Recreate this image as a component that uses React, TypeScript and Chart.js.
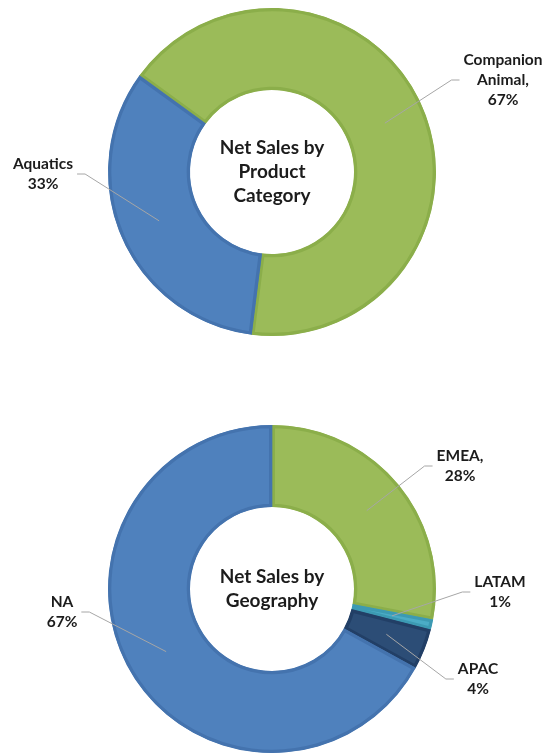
import React, { useEffect, useRef } from 'react';
import { Chart, registerables } from 'chart.js';

Chart.register(...registerables);

// ---- Data ----
const productCategories = ['Companion Animal', 'Aquatics'];
const productShares = [67, 33];
const productLabelText = ['Companion\nAnimal,', 'Aquatics'];
const productTitle = ['Net Sales by', 'Product', 'Category'];

const geoRegions = ['EMEA', 'LATAM', 'APAC', 'NA'];
const geoShares = [28, 1, 4, 67];
const geoLabelText = ['EMEA,', 'LATAM', 'APAC', 'NA'];
const geoTitle = ['Net Sales by', 'Geography'];

// ---- Styles ----
const productFill = ['#9BBB59', '#4F81BD'];
const productBorder = ['#8BAE4A', '#4473AE'];
const geoFill = ['#9BBB59', '#4BACC6', '#2C4D76', '#4F81BD'];
const geoBorder = ['#8BAE4A', '#3C9AB3', '#223F66', '#4473AE'];

const FONT = 'Lato, "Open Sans", sans-serif';

const labelPlugin = {
  id: 'doughnutLabels',
  afterDraw(chart: any, _args: any, opts: any) {
    const ctx = chart.ctx;
    const meta = chart.getDatasetMeta(0);
    const first = meta.data[0];
    const cx = first.x;
    const cy = first.y;
    const ds = chart.data.datasets[0];
    ctx.save();
    ctx.fillStyle = '#1c1c1c';
    ctx.textAlign = 'center';
    ctx.textBaseline = 'middle';
    ctx.font = `bold ${opts.titleSize}px ${FONT}`;
    const t: string[] = opts.title;
    t.forEach((line, i) => {
      ctx.fillText(line, cx, cy + (i - (t.length - 1) / 2) * opts.titleLineHeight);
    });
    ctx.font = `bold ${opts.labelSize}px ${FONT}`;
    meta.data.forEach((arc: any, i: number) => {
      const place = opts.places[i];
      const lines = [...String(opts.labels[i]).split('\n'), `${ds.data[i]}%`];
      const w = Math.max(...lines.map((l: string) => ctx.measureText(l).width));
      const bx = cx + place.dx;
      const by = cy + place.dy;
      const p = arc.tooltipPosition();
      const edge = place.side === 'right' ? bx - w / 2 - opts.gap : bx + w / 2 + opts.gap;
      const elbow = place.side === 'right' ? edge - opts.elbow : edge + opts.elbow;
      ctx.strokeStyle = '#a6a6a6';
      ctx.lineWidth = 1;
      ctx.beginPath();
      ctx.moveTo(p.x, p.y);
      ctx.lineTo(elbow, by);
      ctx.lineTo(edge, by);
      ctx.stroke();
      lines.forEach((l: string, j: number) => {
        ctx.fillText(l, bx, by + (j - (lines.length - 1) / 2) * opts.labelLineHeight);
      });
    });
    ctx.restore();
  },
};

function Doughnut(props: {
  labels: string[];
  values: number[];
  fill: string[];
  border: string[];
  rotation: number;
  padding: any;
  title: string[];
  labelText: string[];
  places: any[];
  top: number;
}) {
  const ref = useRef<HTMLCanvasElement | null>(null);
  useEffect(() => {
    if (!ref.current) return;
    const chart = new Chart(ref.current, {
      type: 'doughnut',
      data: {
        labels: props.labels,
        datasets: [
          {
            data: props.values,
            backgroundColor: props.fill,
            borderColor: props.border,
            borderWidth: 3,
            borderAlign: 'inner',
            hoverBorderWidth: 3,
          } as any,
        ],
      },
      options: {
        responsive: false,
        animation: false,
        devicePixelRatio: 1,
        rotation: props.rotation,
        cutout: '50%',
        layout: { padding: props.padding },
        plugins: {
          legend: { display: false },
          tooltip: { enabled: false },
          doughnutLabels: {
            title: props.title,
            titleSize: 19,
            titleLineHeight: 24,
            labels: props.labelText,
            labelSize: 15.5,
            labelLineHeight: 20,
            places: props.places,
            gap: 4,
            elbow: 8,
          },
        } as any,
      },
      plugins: [labelPlugin],
    });
    return () => chart.destroy();
  }, []);
  return (
    <canvas
      ref={ref}
      width={544}
      height={377}
      style={{ position: 'absolute', left: 0, top: props.top, width: 544, height: 377 }}
    />
  );
}

export default function App() {
  return (
    <div style={{ position: 'absolute', left: 0, top: 0, width: 544, height: 754, background: '#ffffff' }}>
      <Doughnut
        labels={productCategories}
        values={productShares}
        fill={productFill}
        border={productBorder}
        rotation={306}
        padding={{ left: 108, right: 108, top: 8, bottom: 41 }}
        title={productTitle}
        labelText={productLabelText}
        places={[
          { dx: 231, dy: -92, side: 'right' },
          { dx: -229, dy: 2, side: 'left' },
        ]}
        top={0}
      />
      <Doughnut
        labels={geoRegions}
        values={geoShares}
        fill={geoFill}
        border={geoBorder}
        rotation={0}
        padding={{ left: 108, right: 108, top: 48, bottom: 1 }}
        title={geoTitle}
        labelText={geoLabelText}
        places={[
          { dx: 188, dy: -123, side: 'right' },
          { dx: 228, dy: 3, side: 'right' },
          { dx: 206, dy: 90, side: 'right' },
          { dx: -210, dy: 23, side: 'left' },
        ]}
        top={377}
      />
    </div>
  );
}
